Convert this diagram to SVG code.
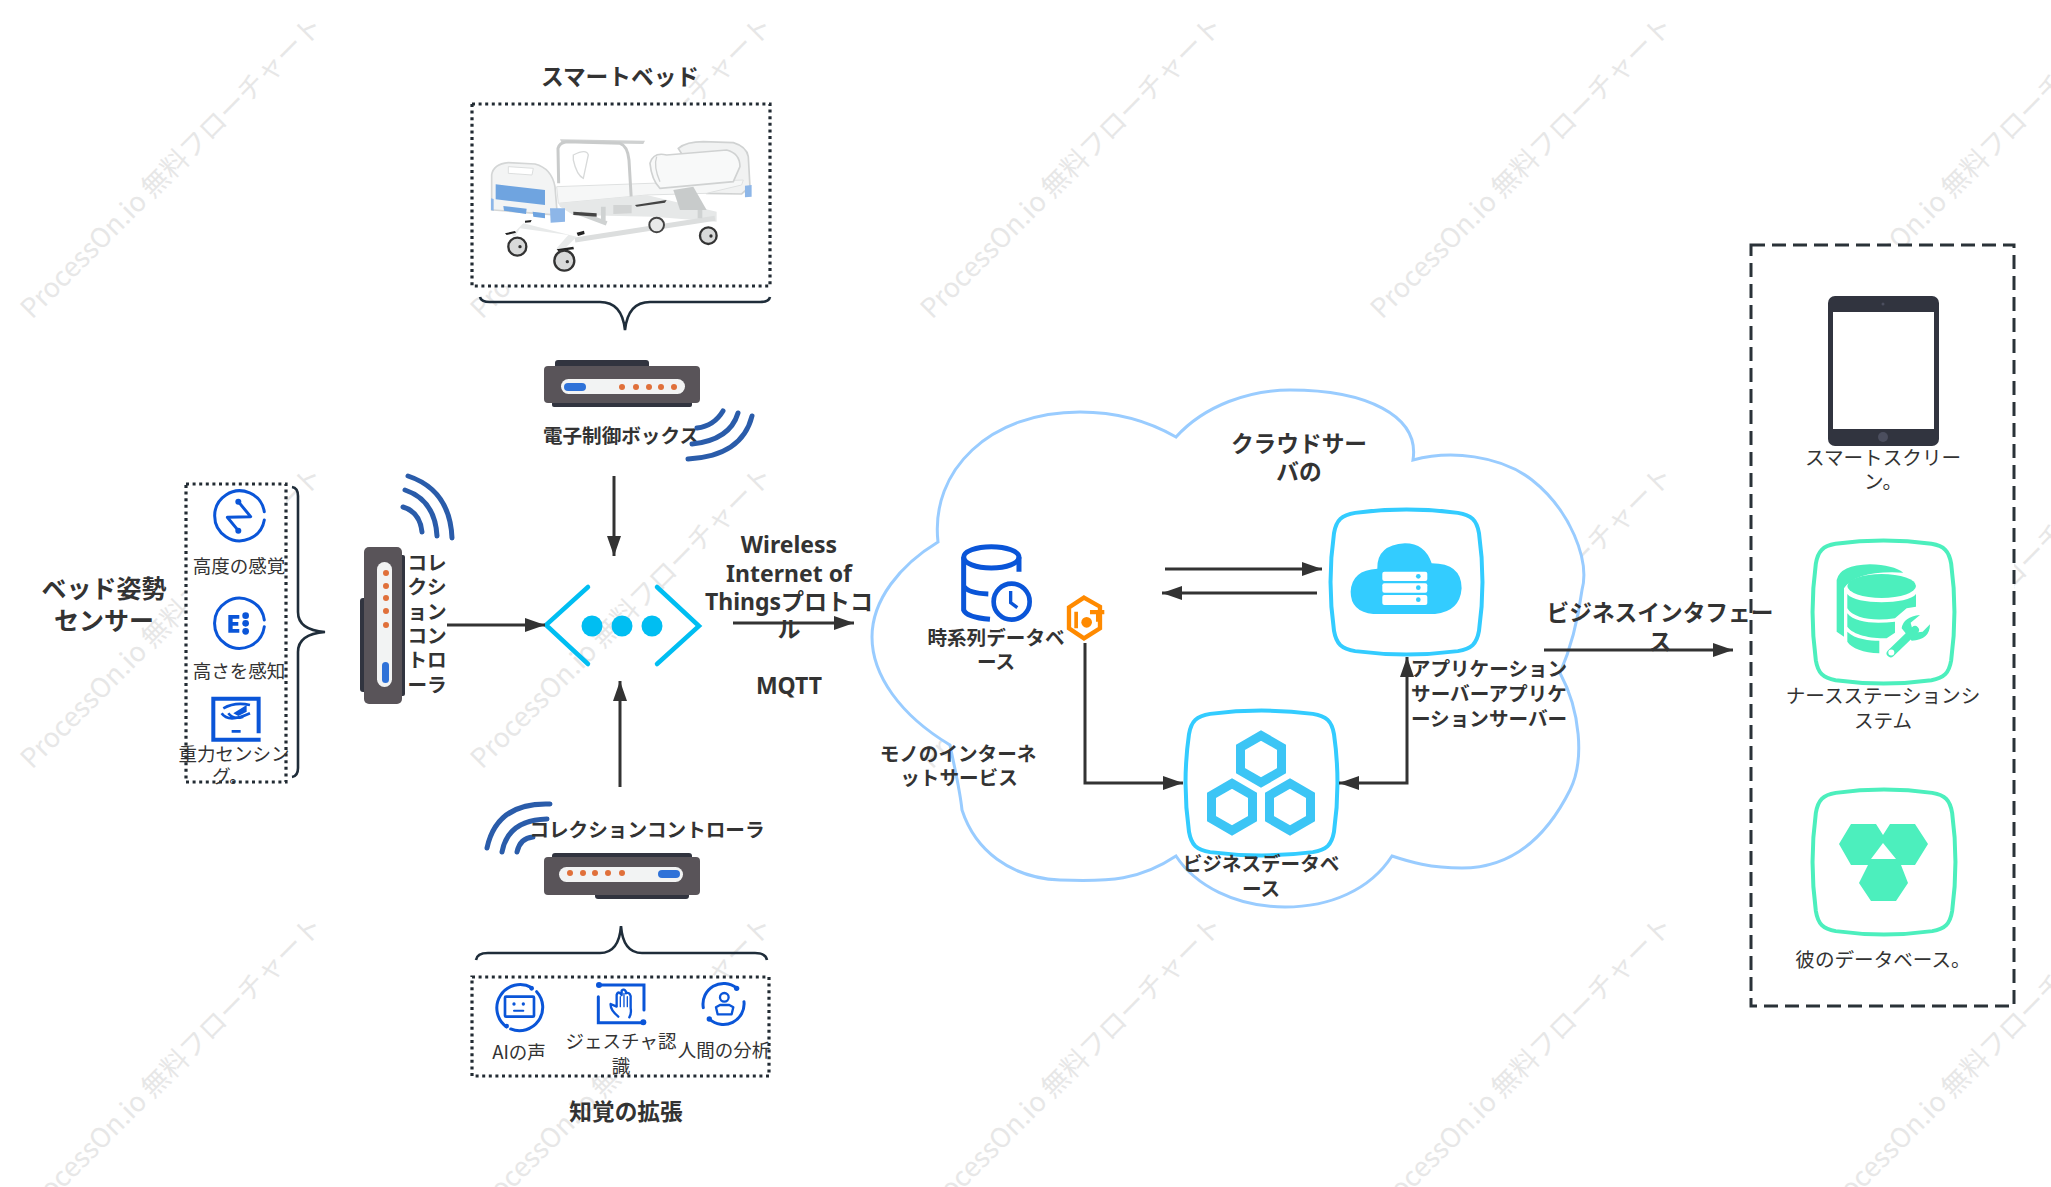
<svg xmlns="http://www.w3.org/2000/svg" xmlns:xlink="http://www.w3.org/1999/xlink" width="2051" height="1187" viewBox="0 0 2051 1187">
<style>
text{font-family:"Noto Sans CJK JP","Noto Sans",sans-serif;fill:#333;text-anchor:middle}
.b{font-weight:700}
.f19{font-size:19.6px}.f18{font-size:18.5px}.f22{font-size:22.7px}.f25{font-size:25px}
.lat{font-family:"Noto Sans","Noto Sans CJK JP",sans-serif;font-size:23px;font-weight:700}
.wm{font-size:27px;fill:#e7e7e7;text-anchor:start;font-weight:400}
.con{fill:none;stroke:#333;stroke-width:3;marker-end:url(#ar)}
.dot{fill:#fff;stroke:#222b33;stroke-width:3.2;stroke-dasharray:3 3.6}
.brace{fill:none;stroke:#1f2d3a;stroke-width:2.6}
.wifi{fill:none;stroke:#2a5caa;stroke-width:5;stroke-linecap:round}
.ico{fill:none;stroke:#0a55d8;stroke-width:9;stroke-linecap:round}
.icf{fill:#0a55d8}
.body{fill:#595459}.strip{fill:#31343f}.panel{fill:#f2f3f3}.led{fill:#e0703a}.pill{fill:#2f72d8}
.sqb{fill:#fff;stroke:#33ccff;stroke-width:4}.sqg{fill:#fff;stroke:#4cefbd;stroke-width:4}
.g{fill:#4cefbd}
.cy{fill:#33ccff}
.hex{fill:none;stroke:#3cc5f5;stroke-width:9}
</style>
<defs>
<marker id="ar" markerUnits="userSpaceOnUse" viewBox="0 0 20 14" refX="20" refY="7" markerWidth="20" markerHeight="14" orient="auto-start-reverse"><path d="M0 0L20 7L0 14Z" fill="#333"/></marker>
<path id="sq" vector-effect="non-scaling-stroke" d="M16 2C38 -1 62 -1 84 2C93 3.5 96.5 7 98 16C101 38 101 62 98 84C96.5 93 93 96.5 84 98C62 101 38 101 16 98C7 96.5 3.5 93 2 84C-1 62 -1 38 2 16C3.5 7 7 3.5 16 2Z"/>
<polygon id="hx" points="0,-23.5 20.5,-11.75 20.5,11.75 0,23.5 -20.5,11.75 -20.5,-11.75"/>
<text id="wmt" class="wm" transform="rotate(-45)">ProcessOn.io 無料フローチャート</text>
<clipPath id="gclip"><rect x="170" y="690" width="130" height="98"/></clipPath>
</defs>
<rect width="2051" height="1187" fill="#fff"/>
<g id="watermark">
<use href="#wmt" transform="translate(32 320)"/><use href="#wmt" transform="translate(482 320)"/><use href="#wmt" transform="translate(932 320)"/><use href="#wmt" transform="translate(1382 320)"/><use href="#wmt" transform="translate(1832 320)"/>
<use href="#wmt" transform="translate(32 770)"/><use href="#wmt" transform="translate(482 770)"/><use href="#wmt" transform="translate(932 770)"/><use href="#wmt" transform="translate(1382 770)"/><use href="#wmt" transform="translate(1832 770)"/>
<use href="#wmt" transform="translate(32 1220)"/><use href="#wmt" transform="translate(482 1220)"/><use href="#wmt" transform="translate(932 1220)"/><use href="#wmt" transform="translate(1382 1220)"/><use href="#wmt" transform="translate(1832 1220)"/>
</g>
<g id="cloud-server">
<path d="M1176 437C1205 405 1250 390 1290 390C1365 390 1420 415 1413 460C1450 450 1500 455 1532 480C1570 510 1590 560 1582 590C1578 620 1570 650 1560 673C1580 710 1585 760 1570 790C1540 850 1500 868 1462 868C1430 868 1410 862 1392 856C1370 890 1330 907 1285 907C1235 907 1195 885 1176 856C1140 880 1110 882 1060 880C1010 878 975 850 962 810C960 790 955 770 950 745C900 715 872 675 872 637C872 600 900 565 938 542C930 470 990 412 1080 412C1120 412 1150 422 1176 437Z" fill="#fff" stroke="#99ccff" stroke-width="3"/>
<text class="b f22" x="1299" y="452">クラウドサー</text><text class="b f22" x="1299" y="480">バの</text>
</g>
<g id="smart-bed">
<rect class="dot" x="472" y="104" width="298" height="182"/>
<g transform="translate(440 40) scale(.3333)">
<path d="M715 325Q740 305 790 305L880 308Q920 320 925 350L930 440L905 462L800 460Z" fill="#f1f2f2" stroke="#d0d2d2" stroke-width="5"/>
<path d="M750 340L798 336L798 350L750 352Z" fill="#d8dada"/>
<path d="M870 362L890 365L882 388Z" fill="#4f86c6"/><path d="M915 437L935 435L935 470L915 472Z" fill="#8db6e8"/>
<path d="M360 298L615 302L610 312L365 308Z" fill="#cfd1d1"/>
<path d="M400 345Q440 325 445 345L430 415Q410 405 400 360Z" fill="none" stroke="#d8dada" stroke-width="4"/>
<path d="M155 510L155 405Q160 372 205 368L285 372Q335 385 345 440L352 525L160 510Z" fill="#f3f4f4" stroke="#d4d6d6" stroke-width="5"/>
<path d="M205 380L280 385L276 405L205 400Z" fill="#fff" stroke="#dcdede" stroke-width="3"/>
<path d="M167 433L315 450L315 495L167 478Z" fill="#6fa4e0"/><path d="M153 475L161 477L161 512L153 510Z" fill="#8db6e8"/>
<path d="M350 440L910 420L905 435L800 460L620 465L355 490Z" fill="#f6f7f7" stroke="#dfe1e1" stroke-width="3"/>
<path d="M356 430L354 325Q358 308 380 305L540 310Q563 318 567 360L575 495" fill="none" stroke="#c9cbcb" stroke-width="9"/>
<path d="M630 370Q640 335 680 345L860 330Q900 340 900 380L880 425L660 445Q635 420 630 370Z" fill="#f8f9f9" stroke="#d0d2d2" stroke-width="5"/>
<path d="M650 350Q640 380 660 425" fill="none" stroke="#d0d2d2" stroke-width="4"/>
<path d="M355 490L620 465L830 515L830 545L640 530L400 525L360 500Z" fill="#e6e8e8"/>
<path fill="none" stroke="#dcdede" stroke-width="15" d="M405 600L825 535"/><path fill="none" stroke="#cfd2d2" stroke-width="14" d="M490 500V550M780 500V535M420 520L500 550"/>
<path d="M700 450L760 440L800 510L720 510Z" fill="#c8cbcb"/><path d="M520 495L575 495L575 520L520 522Z" fill="#d2d4d4"/><path d="M585 495L680 480L675 488L590 500ZM400 515L470 520L470 530L400 525Z" fill="#444"/>
<path d="M190 498L260 506L258 522L192 512ZM278 515L315 520L315 535L280 530Z" fill="#6fa4e0"/><path d="M330 505L375 505L375 545L332 548Z" fill="#8db6e8"/>
<path d="M250 550L410 590L360 640L350 625L385 585L240 565L225 590L215 585Z" fill="#e8eaea"/>
<path d="M195 580L225 573L228 578L200 585ZM255 542L275 540L272 547L255 548ZM350 628L400 620L402 628L355 633ZM410 578L432 572L434 582L414 588Z" fill="#222"/>
<circle cx="650" cy="555" r="22" fill="#e8e9e9" stroke="#444" stroke-width="6"/>
<circle cx="232" cy="620" r="27" fill="#d8d9d9" stroke="#333" stroke-width="7"/><circle cx="240" cy="620" r="5" fill="#333"/>
<circle cx="373" cy="662" r="30" fill="#d8d9d9" stroke="#333" stroke-width="7"/><circle cx="382" cy="665" r="5" fill="#333"/>
<circle cx="805" cy="587" r="25" fill="#d8d9d9" stroke="#333" stroke-width="7"/><circle cx="813" cy="588" r="5" fill="#333"/>
</g>
<path class="brace" d="M480 297Q481 302 490 302H600Q622 302 625 330Q628 302 650 302H760Q769 302 770 297"/>
<text class="b f22" x="620" y="85">スマートベッド</text>
</g>
<g id="control-box">
<rect class="strip" x="555" y="360" width="94" height="12" rx="3"/><rect class="strip" x="552" y="398" width="140" height="9" rx="2"/>
<rect class="body" x="544" y="366" width="156" height="37" rx="4"/><rect class="panel" x="561" y="379" width="124" height="15" rx="7.5"/><rect class="pill" x="564" y="383" width="22" height="8" rx="4"/>
<circle class="led" cx="622" cy="387" r="3"/><circle class="led" cx="636" cy="387" r="3"/><circle class="led" cx="649" cy="387" r="3"/><circle class="led" cx="661" cy="387" r="3"/><circle class="led" cx="674" cy="387" r="3"/>
<text class="b f19" x="621" y="443">電子制御ボックス</text>
<path class="wifi" d="M723 411Q714 426 697 428M738 413Q730 440 692 444M752 416Q742 456 688 459"/>
</g>
<g id="posture-sensors">
<rect class="dot" x="186" y="484" width="100" height="298"/>
<path class="brace" d="M292 487Q298 488 298 496V612Q298 630 325 632Q298 634 298 652V768Q298 776 292 777"/>
<g transform="translate(20 460) scale(.3333)">
<path class="ico" d="M733 155A75 75 0 1 0 733 180"/><path class="ico" stroke-linejoin="round" d="M655 125L692 170L622 172L655 212"/><circle class="icf" cx="655" cy="125" r="9"/><circle class="icf" cx="655" cy="212" r="9"/>
<path class="ico" d="M733 480A75 75 0 1 0 733 500"/><path class="icf" d="M625 465H658V476H638V486H655V497H638V507H658V518H625Z"/><circle class="icf" cx="677" cy="467" r="10"/><circle class="icf" cx="677" cy="490" r="10"/><circle class="icf" cx="677" cy="514" r="10"/>
<path class="icf" d="M574 710H722V820H710V722H586V833H722V845H574Z"/>
<path fill="none" stroke="#0a55d8" stroke-width="8" d="M610 745Q645 725 690 735M605 760Q625 790 690 760M625 760Q640 780 670 770"/><path class="icf" d="M640 760L680 735L680 755L655 768ZM635 810H662V818H635Z"/>
</g>
<text class="f18" x="239" y="573">高度の感覚</text><text class="f18" x="239" y="678">高さを感知</text>
<g clip-path="url(#gclip)"><text class="f18" x="234" y="761">重力センシン</text><text class="f18" x="230" y="783">グ。</text></g>
<text class="b f25" x="104" y="598">ベッド姿勢</text><text class="b f25" x="104" y="630">センサー</text>
</g>
<g id="collection-controller-left">
<rect class="strip" x="360" y="598" width="10" height="94" rx="3"/><rect class="strip" x="396" y="555" width="9" height="141" rx="2"/>
<rect class="body" x="364" y="547" width="38" height="157" rx="5"/><rect class="panel" x="377" y="562" width="15" height="125" rx="7.5"/><rect class="pill" x="382" y="662" width="7" height="21" rx="3.5"/>
<circle class="led" cx="386" cy="573" r="3"/><circle class="led" cx="386" cy="586" r="3"/><circle class="led" cx="386" cy="598" r="3"/><circle class="led" cx="386" cy="611" r="3"/><circle class="led" cx="386" cy="625" r="3"/>
<path class="wifi" d="M403 507Q420 512 422 532M405 490Q435 500 437 536M408 476Q450 490 452 538"/>
<text class="b f19" x="427" y="570">コレ</text><text class="b f19" x="427" y="594">クシ</text><text class="b f19" x="427" y="619">ョン</text><text class="b f19" x="427" y="643">コン</text><text class="b f19" x="427" y="667">トロ</text><text class="b f19" x="427" y="692">ーラ</text>
</g>
<g id="gateway">
<path fill="none" stroke="#00bef2" stroke-width="4.5" stroke-linecap="round" d="M588 587L546 625L588 664M657 587L699 626L657 664"/>
<circle fill="#00bef2" cx="592" cy="626" r="10.5"/><circle fill="#00bef2" cx="622" cy="626" r="10.5"/><circle fill="#00bef2" cx="652" cy="626" r="10.5"/>
</g>
<g id="collection-controller-bottom">
<rect class="strip" x="552" y="853" width="140" height="9" rx="3"/><rect class="strip" x="595" y="890" width="94" height="9" rx="3"/>
<rect class="body" x="544" y="857" width="156" height="38" rx="4"/><rect class="panel" x="559" y="867" width="124" height="15" rx="7.5"/><rect class="pill" x="658" y="870" width="22" height="8" rx="4"/>
<circle class="led" cx="570" cy="873" r="3"/><circle class="led" cx="583" cy="873" r="3"/><circle class="led" cx="595" cy="873" r="3"/><circle class="led" cx="608" cy="873" r="3"/><circle class="led" cx="622" cy="873" r="3"/>
<path class="wifi" d="M550 804Q497 802 487 848M547 819Q508 820 502 852M533 837Q520 838 517 852"/>
<text class="b f19" x="647" y="837">コレクションコントローラ</text>
</g>
<g id="perception">
<path class="brace" d="M476 960Q477 953 488 953H600Q619 953 621 926Q623 953 642 953H755Q766 953 767 960"/>
<rect class="dot" x="472" y="977" width="297" height="99"/>
<g transform="translate(440 780) scale(.3333)">
<path class="ico" d="M275 623A70 70 0 0 0 200 741M212 747A70 70 0 0 0 290 635"/><circle class="icf" cx="275" cy="625" r="7"/><circle class="icf" cx="200" cy="738" r="7"/>
<rect class="ico" x="195" y="650" width="87" height="60" rx="3" style="stroke-width:8"/><circle class="icf" cx="222" cy="672" r="5"/><circle class="icf" cx="250" cy="672" r="5"/><path class="ico" style="stroke-width:6" d="M222 692H250"/>
<path class="ico" d="M477 615H612V690M475 650V728H610"/><circle class="icf" cx="477" cy="615" r="9"/><circle class="icf" cx="610" cy="727" r="9"/>
<path class="ico" style="stroke-width:7" stroke-linejoin="round" d="M535 710Q510 690 512 672L530 680V645Q535 630 545 645V632Q552 625 558 635V640Q568 635 572 648V685Q575 700 568 712"/><path class="ico" style="stroke-width:4" d="M541 650V680M552 640V680M562 650V680"/>
<path class="ico" d="M890 624A62 62 0 0 0 790 683M808 717A62 62 0 0 0 912 665"/><circle class="icf" cx="890" cy="625" r="8"/><circle class="icf" cx="808" cy="717" r="8"/>
<circle class="ico" style="stroke-width:7" cx="853" cy="652" r="13"/><path class="ico" style="stroke-width:7" stroke-linejoin="round" d="M828 682L840 675H868L880 682L875 703H833Z"/>
</g>
<text class="f18" x="519" y="1059">AIの声</text><text class="f18" x="621" y="1048">ジェスチャ認</text><text class="f18" x="621" y="1073">識</text><text class="f18" x="724" y="1057">人間の分析</text>
<text class="b f22" x="626" y="1120">知覚の拡張</text>
</g>
<g id="timeseries-db">
<g transform="translate(860 380) scale(.3333)">
<ellipse cx="394" cy="532" rx="83" ry="32" fill="none" stroke="#0a55d8" stroke-width="15"/>
<path fill="none" stroke="#0a55d8" stroke-width="15" d="M311 532V690Q320 712 390 718M477 532V575M311 618Q325 640 385 642"/>
<circle cx="455" cy="665" r="54" fill="#fff" stroke="#0a55d8" stroke-width="14"/><path fill="none" stroke="#0a55d8" stroke-width="10" d="M452 633V668L472 683"/>
</g>
<text class="b f19" x="996" y="645">時系列データベ</text><text class="b f19" x="996" y="669">ース</text>
</g>
<g id="iot-service">
<g transform="translate(860 380) scale(.3333)">
<polygon fill="none" stroke="#ff8a00" stroke-width="13" points="672,653 720,680 720,745 672,775 627,745 627,682"/><path fill="#ff8a00" d="M643 695H654V745H643ZM690 690H733V703H718V725H708V703H690Z"/><circle fill="#ff8a00" cx="680" cy="727" r="16"/>
</g>
<text class="b f19" x="958" y="761">モノのインターネ</text><text class="b f19" x="959" y="785">ットサービス</text>
</g>
<g id="app-server">
<use href="#sq" class="sqb" transform="translate(1331 510) scale(1.51 1.44)"/>
<g transform="translate(1160 480) scale(.3333)">
<path class="cy" d="M640 402Q572 395 572 335Q575 270 652 266Q650 195 735 190Q795 190 815 250Q905 250 905 325Q900 395 825 402Z"/>
<rect fill="#fff" x="667" y="275" width="135" height="28" rx="6"/><rect fill="#fff" x="667" y="310" width="135" height="28" rx="6"/><rect fill="#fff" x="667" y="345" width="135" height="30" rx="6"/>
<circle class="cy" cx="775" cy="289" r="7"/><circle class="cy" cx="775" cy="323" r="7"/><circle class="cy" cx="775" cy="359" r="7"/>
</g>
<text class="b f19" x="1489" y="676">アプリケーション</text><text class="b f19" x="1489" y="701">サーバーアプリケ</text><text class="b f19" x="1489" y="726">ーションサーバー</text>
</g>
<g id="business-db">
<use href="#sq" class="sqb" transform="translate(1186 711) scale(1.51 1.44)"/>
<use href="#hx" class="hex" transform="translate(1261 759)"/><use href="#hx" class="hex" transform="translate(1232 807)"/><use href="#hx" class="hex" transform="translate(1290 807)"/>
<text class="b f19" x="1261" y="871">ビジネスデータベ</text><text class="b f19" x="1261" y="896">ース</text>
</g>
<g id="output-panel">
<rect x="1751" y="245" width="263" height="761" fill="#fff" stroke="#2a3238" stroke-width="3" stroke-dasharray="14 7"/>
</g>
<g id="smart-screen">
<rect class="strip" x="1828" y="296" width="111" height="150" rx="7"/><rect fill="#fff" x="1833" y="312" width="101" height="117"/><circle cx="1883" cy="437" r="5" fill="#4b4e5e"/><circle cx="1883" cy="304" r="1.5" fill="#4b4e5e"/>
<text class="f19" x="1883" y="465">スマートスクリー</text><text class="f19" x="1883" y="489">ン。</text>
</g>
<g id="nurse-station">
<use href="#sq" class="sqg" transform="translate(1813 541) scale(1.41 1.42)"/>
<g transform="translate(1740 230) scale(.3333)">
<path class="g" d="M290 1050Q300 1005 390 1003Q460 1005 490 1028Q350 1020 312 1075V1220L290 1205ZM290 1075L308 1100V1140L290 1115ZM290 1125L308 1150V1180L290 1160Z"/>
<ellipse class="g" cx="425" cy="1068" rx="103" ry="36"/>
<path class="g" d="M322 1092C345 1125 505 1125 528 1092V1130L500 1135L465 1165C400 1175 340 1165 322 1135Z"/>
<path class="g" d="M322 1150C345 1180 410 1182 465 1175V1208L440 1225C390 1225 340 1215 322 1190Z"/>
<path class="g" d="M322 1205C345 1228 390 1232 418 1232V1270C370 1268 335 1255 322 1235Z"/>
<path fill="none" stroke="#fff" stroke-width="38" d="M452 1270L525 1200"/>
<path fill="none" stroke="#4cefbd" stroke-width="24" stroke-linecap="round" d="M452 1270L525 1200"/>
<path class="g" d="M485 1195Q490 1160 540 1155L512 1178L520 1208L548 1205L570 1183Q570 1230 515 1232Z"/><circle fill="#fff" cx="454" cy="1268" r="9"/>
</g>
<text class="f19" x="1883" y="703">ナースステーションシ</text><text class="f19" x="1883" y="728">ステム</text>
</g>
<g id="other-db">
<use href="#sq" class="sqg" transform="translate(1813 790) scale(1.42 1.44)"/>
<path class="g" d="M1851 824H1876L1883 835L1890 824H1915L1928 844L1915 865H1901L1908 883L1896 901H1871L1859 883L1868 865H1851L1839 844Z"/>
<path fill="#fff" d="M1883 843L1871 859H1896Z"/>
<text class="f19" x="1883" y="967">彼のデータベース。</text>
</g>
<g id="connectors">
<path class="con" d="M614 476V556"/>
<path class="con" d="M620 787V681"/>
<path class="con" d="M447 625H545"/>
<path class="con" d="M733 623H854"/>
<path class="con" d="M1165 569H1322"/>
<path class="con" d="M1317 593H1162"/>
<path class="con" d="M1085 643V783H1183"/>
<path class="con" style="marker-start:url(#ar)" d="M1339 783H1407V657"/>
<path class="con" d="M1544 650H1733"/>
</g>
<g id="labels">
<text class="lat" x="789" y="553">Wireless</text><text class="lat" x="789" y="582">Internet of</text><text class="lat" x="789" y="610">Thingsプロトコ</text><text class="lat" x="789" y="637">ル</text><text class="lat" x="789" y="694">MQTT</text>
<text class="b f22" x="1660" y="621">ビジネスインタフェー</text><text class="b f22" x="1660" y="650">ス</text>
</g>
</svg>
